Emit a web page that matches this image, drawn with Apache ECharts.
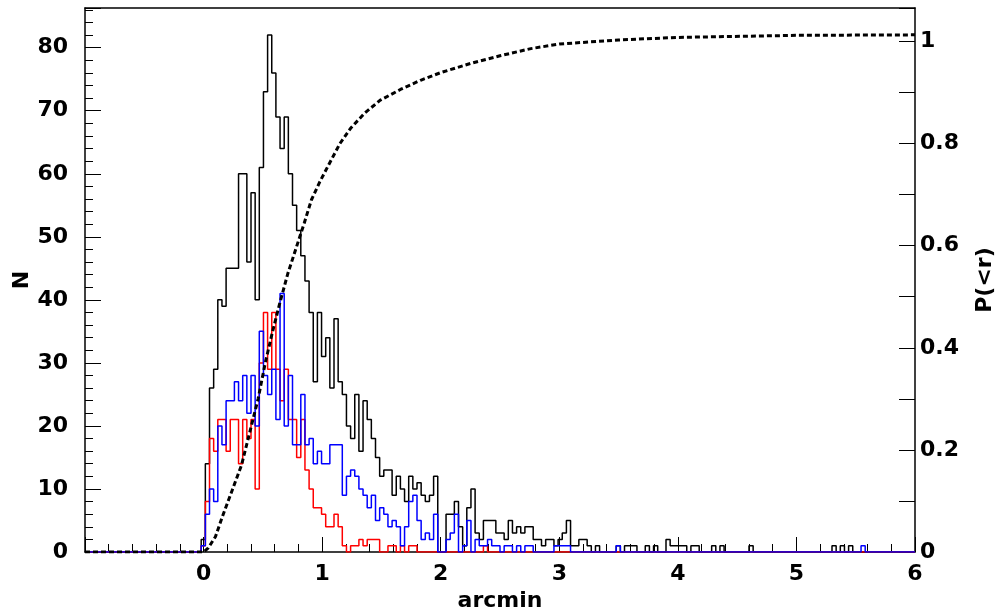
<!DOCTYPE html>
<html>
<head>
<meta charset="utf-8">
<script src="https://cdn.jsdelivr.net/npm/echarts@6/dist/echarts.min.js"></script>
<style>
html,body{margin:0;padding:0;background:#fff;}
#chart{width:1000px;height:614px;}
</style>
</head>
<body>
<div id="chart"></div>
<script>
// Histogram binning (arcmin): 200 bins from -1 to 6
const binLow = -1;
const binWidth = 0.035;

// Counts per bin, bin index 0..199
const blackCounts = [
0,0,0,0,0,0,0,0,0,0, 0,0,0,0,0,0,0,0,0,0, 0,0,0,0,0,0,0,0,
2,14,26,29,40,39,45,45,45,60,60,46,57,40,61,73,82,
76,69,64,69,60,55,51,47,43,38,27,38,
31,34,26,37,27,25,20,18,25,16,24,21,18,15,12,13,13,9,12,10,8,12,10,11,9,8,9,12,
0,0,
6,6,8,4,1,7,10,3,2,5,5,5,3,3,2,5,3,4,3,4,4,2,2,1,2,2,1,2,
3,5,1,1,2,2,1,0,1,0,0,0,0,1,0,1,1,1,0,0,1,0,1,0,0,2,1,1,1,1,0,1,1,0,0,0,1,0,1,
0,0,0,0,0,0,1,0,0,0,0,0,0,0,0,0,0,0,0,0,0,0,0,0,0,0,1,0,1,0,1,
0,0,0,0,0,0,0,0,0
];

const redCounts = [
0,0,0,0,0,0,0,0,0,0, 0,0,0,0,0,0,0,0,0,0, 0,0,0,0,0,0,0,0,
1,8,18,16,21,21,16,21,21,14,21,18,21,10,30,38,29,38,29,24,29,21,21,15,21,13,10,7,7,6,4,4,6,4,1,0,1,1,2,1,2,2,2,0,0,1,1,0,1,0,1,1,
0,0,0,0,0,0,0,0,0,0,0,0,0,0,0,0,1
];

const blueCounts = [
0,0,0,0,0,0,0,0,0,0, 0,0,0,0,0,0,0,0,0,0, 0,0,0,0,0,0,0,0,
1,6,10,8,20,17,24,24,27,24,28,22,28,20,35,28,25,29,21,41,20,28,17,17,25,17,18,14,16,14,14,17,17,17,9,12,13,12,10,9,7,9,5,7,6,4,5,4,1,4,8,9,
5,2,3,2,6,0,0,2,3,6,0,1,5,0,2,1,1,2,1,1,0,1,1,0,1,0,1,1,0,0,0,0,0,1,1,1,1,
0,0,0,0,0,0,0,0,0,0,0,1,
0,0,0,0,0,0,0,0,0,0,0,0,0,0,0,0,0,0,0,0,0,0,0,0,0,0,0,0,0,0,0,0,0,0,0,0,0,0,0,0,0,0,0,0,0,0,0,0,0,0,0,0,0,0,0,0,0,0,1,
0,0,0,0,0,0,0,0,0,0,0,0,0
];

// Cumulative fraction P(<r)
const cumR = [-1,0,0.04,0.1,0.16,0.24,0.32,0.39,0.46,0.52,0.58,0.64,0.71,0.78,0.85,0.91,0.98,1.07,1.15,1.24,1.36,1.49,1.66,1.83,2.0,2.25,2.5,2.76,3.0,3.5,4.0,5.0,6.0];
const cumP = [0,0,0.008,0.03,0.07,0.12,0.17,0.235,0.30,0.37,0.43,0.485,0.545,0.595,0.645,0.69,0.725,0.765,0.80,0.83,0.86,0.885,0.906,0.924,0.939,0.957,0.972,0.986,0.995,1.003,1.008,1.012,1.013];

const xTicks = [0,1,2,3,4,5,6];

function stepData(counts){
  const n = 200;
  const pts = [];
  for(let k=0;k<n;k++){
    const v = k < counts.length ? counts[k] : 0;
    pts.push([binLow + k*binWidth, v]);
  }
  pts.push([binLow + n*binWidth, 0]);
  return pts;
}

const font = '"DejaVu Sans", "Liberation Sans", Arial, sans-serif';
const labelStyle = {color:'#000', fontFamily:font, fontWeight:'bold', fontSize:22};
const nameStyle = {color:'#000', fontFamily:font, fontWeight:'bold', fontSize:22};

const chart = echarts.init(document.getElementById('chart'), null, {renderer:'canvas'});
chart.setOption({
  animation:false,
  backgroundColor:'#fff',
  grid:{left:85,right:85,top:8,bottom:62,containLabel:false,outerBoundsMode:'none'},
  xAxis:[{
    type:'value', min:-1, max:6, interval:1,
    axisLine:{show:true,onZero:false,lineStyle:{color:'#000',width:1.5}},
    axisTick:{show:true,inside:true,length:15,lineStyle:{color:'#000',width:1}},
    minorTick:{show:true,splitNumber:5,length:8,lineStyle:{color:'#000',width:1}},
    splitLine:{show:false},
    axisLabel:Object.assign({margin:11,formatter:function(v){return xTicks.indexOf(v)>=0?String(v):'';}},labelStyle),
    name:'arcmin', nameLocation:'middle', nameGap:38, nameMoveOverlap:false, nameTextStyle:nameStyle
  },{
    type:'value', min:-1, max:6, position:'top',
    axisLine:{show:true,onZero:false,lineStyle:{color:'#000',width:1.5}},
    axisTick:{show:false}, axisLabel:{show:false}, splitLine:{show:false}
  }],
  yAxis:[{
    type:'value', min:0, max:86.3, interval:10,
    axisLine:{show:true,onZero:false,lineStyle:{color:'#000',width:1.5}},
    axisTick:{show:true,inside:true,length:16,lineStyle:{color:'#000',width:1}},
    minorTick:{show:true,splitNumber:5,length:8,lineStyle:{color:'#000',width:1}},
    splitLine:{show:false},
    axisLabel:Object.assign({margin:17,showMaxLabel:false},labelStyle),
    name:'N', nameLocation:'middle', nameGap:52, nameRotate:90, nameMoveOverlap:false, nameTextStyle:nameStyle
  },{
    type:'value', min:0, max:1.0656, interval:0.2, position:'right',
    axisLine:{show:true,onZero:false,lineStyle:{color:'#000',width:1.5}},
    axisTick:{show:true,inside:true,length:16,lineStyle:{color:'#000',width:1}},
    minorTick:{show:true,splitNumber:2,length:16,lineStyle:{color:'#000',width:1}},
    splitLine:{show:false},
    axisLabel:Object.assign({margin:5,showMaxLabel:false,formatter:function(v){return String(Math.round(v*10)/10);}},labelStyle),
    name:'P(<r)', nameLocation:'middle', nameGap:59, nameRotate:90, nameMoveOverlap:false, nameTextStyle:nameStyle
  }],
  series:[
    {type:'line',step:'end',data:stepData(blackCounts),showSymbol:false,lineStyle:{color:'#000',width:1.5},z:2},
    {type:'line',step:'end',data:stepData(redCounts),showSymbol:false,lineStyle:{color:'#ff0000',width:1.5},z:3},
    {type:'line',step:'end',data:stepData(blueCounts),showSymbol:false,lineStyle:{color:'#0000ff',width:1.5},z:4},
    {type:'line',yAxisIndex:1,data:cumR.map((r,i)=>[r,cumP[i]]),showSymbol:false,smooth:false,
     lineStyle:{color:'#000',width:3,type:[5,3]},z:5}
  ]
});
</script>
</body>
</html>
